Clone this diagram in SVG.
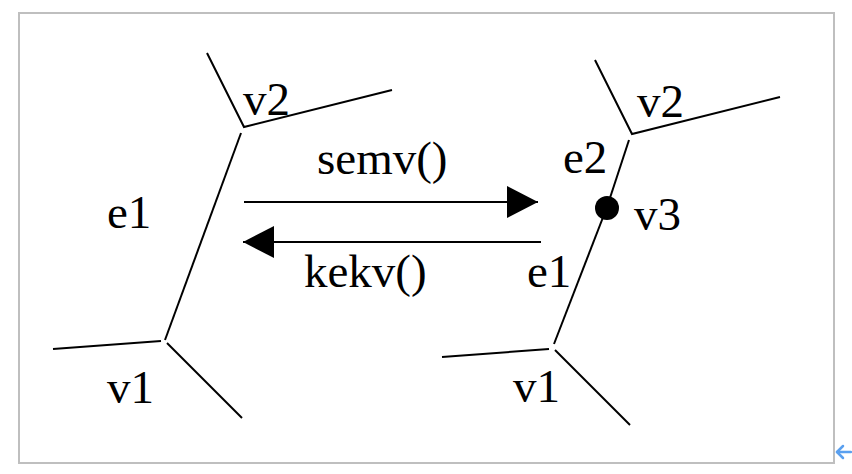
<svg xmlns="http://www.w3.org/2000/svg" width="852" height="474" viewBox="0 0 852 474">
<style>
.ln{stroke:#000;stroke-width:2;fill:none;stroke-linecap:butt}
.t{font-family:"Liberation Serif","Times New Roman",serif;font-size:47px;fill:#000}
</style>
<defs>
<marker id="ah" markerWidth="31" markerHeight="32" refX="31" refY="16" orient="auto" markerUnits="userSpaceOnUse">
<path d="M0,0 L31,16 L0,32 Z" fill="#000"/>
</marker>
</defs>
<rect x="0" y="0" width="852" height="474" fill="#fff"/>
<rect x="19" y="13" width="815" height="450" fill="none" stroke="#bfbfbf" stroke-width="2"/>
<g id="left-graph">
<g id="left-v2">
<polyline class="ln" points="207,53 244,127 392,90"/>
<text class="t" x="243" y="115">v2</text>
</g>
<g id="left-e1">
<line class="ln" x1="241" y1="133" x2="165" y2="340"/>
<text class="t" x="107" y="228">e1</text>
</g>
<g id="left-v1">
<line class="ln" x1="53" y1="349" x2="161" y2="341"/>
<line class="ln" x1="167" y1="343" x2="242" y2="418"/>
<text class="t" x="107" y="403">v1</text>
</g>
</g>
<g id="right-graph">
<g id="right-v2">
<polyline class="ln" points="595,60 632,134 780,97"/>
<text class="t" x="637" y="117">v2</text>
</g>
<g id="right-e2">
<line class="ln" x1="629" y1="140" x2="607" y2="207"/>
<text class="t" x="563" y="173">e2</text>
</g>
<g id="right-v3">
<circle cx="607" cy="208" r="12" fill="#000"/>
<text class="t" x="634" y="230">v3</text>
</g>
<g id="right-e1">
<line class="ln" x1="607" y1="207" x2="554" y2="344"/>
<text class="t" x="527" y="287">e1</text>
</g>
<g id="right-v1">
<line class="ln" x1="442" y1="357" x2="549" y2="349"/>
<line class="ln" x1="555" y1="350" x2="630" y2="425"/>
<text class="t" x="513" y="402">v1</text>
</g>
</g>
<g id="connectors">
<line class="ln" x1="244" y1="202" x2="538" y2="202" marker-end="url(#ah)"/>
<text class="t" x="317" y="174">semv()</text>
<line class="ln" x1="541" y1="242" x2="243" y2="242" marker-end="url(#ah)"/>
<text class="t" x="304" y="287">kekv()</text>
</g>
<g id="corner-arrow" stroke="#5aa0ef" stroke-width="2.5" fill="none" stroke-linecap="round" stroke-linejoin="round">
<line x1="837" y1="452" x2="851" y2="452"/>
<polyline points="843,446 837,452 843,458"/>
</g>
</svg>
